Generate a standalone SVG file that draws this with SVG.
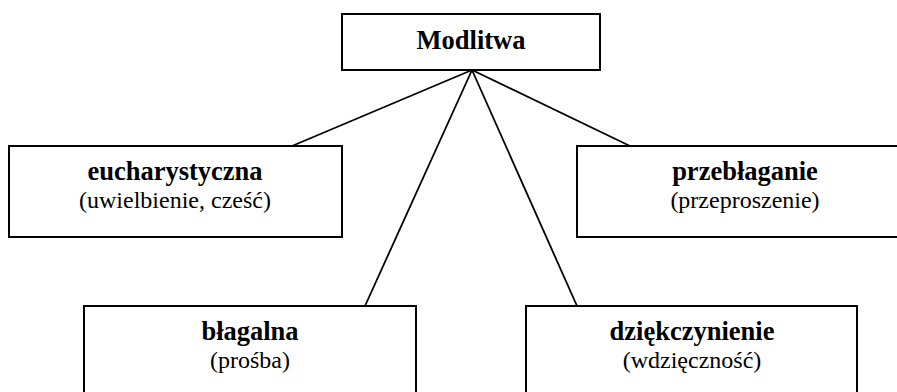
<svg xmlns="http://www.w3.org/2000/svg" width="897" height="392" viewBox="0 0 897 392">
<style>
.box{fill:#fff;stroke:#000;stroke-width:2}
.ln{stroke:#000;stroke-width:1.8;fill:none}
.b{font-family:"Liberation Serif","Times New Roman",serif;font-weight:bold;font-size:26.5px;text-anchor:middle;fill:#000}
.r{font-family:"Liberation Serif","Times New Roman",serif;font-size:24px;text-anchor:middle;fill:#000}
</style>
<rect width="897" height="392" fill="#fff"/>
<g id="connectors">
<line class="ln" x1="472" y1="70" x2="292" y2="146"/>
<line class="ln" x1="472" y1="70" x2="365" y2="306"/>
<line class="ln" x1="472" y1="70" x2="577" y2="306"/>
<line class="ln" x1="472" y1="70" x2="630" y2="146"/>
</g>
<g id="root">
<rect class="box" x="342" y="14" width="258" height="56"/>
<text class="b" x="471" y="49">Modlitwa</text>
</g>
<g id="eucharystyczna">
<rect class="box" x="9" y="146" width="333" height="91"/>
<text class="b" x="175" y="180">eucharystyczna</text>
<text class="r" x="175" y="208">(uwielbienie, cześć)</text>
</g>
<g id="przeblaganie">
<rect class="box" x="577" y="146" width="340" height="91"/>
<text class="b" x="745" y="180">przebłaganie</text>
<text class="r" x="745" y="208">(przeproszenie)</text>
</g>
<g id="blagalna">
<rect class="box" x="84" y="306" width="332" height="100"/>
<text class="b" x="250" y="340">błagalna</text>
<text class="r" x="250" y="368">(prośba)</text>
</g>
<g id="dziekczynienie">
<rect class="box" x="526" y="306" width="331" height="100"/>
<text class="b" x="692" y="340">dziękczynienie</text>
<text class="r" x="692" y="368">(wdzięczność)</text>
</g>
</svg>
